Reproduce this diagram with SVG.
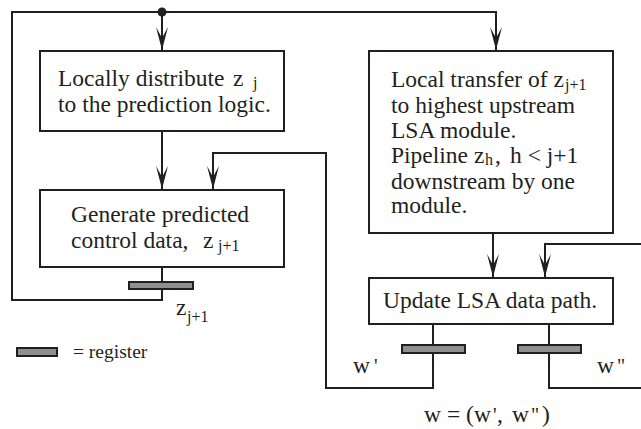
<svg xmlns="http://www.w3.org/2000/svg" width="641" height="429" viewBox="0 0 641 429">
  <style>
    .box { fill: #ffffff; stroke: #231f20; stroke-width: 2; }
    .wire { fill: none; stroke: #231f20; stroke-width: 2; }
    .reg { fill: #8e8f92; stroke: #231f20; stroke-width: 2; }
    text { font-family: 'Liberation Serif', 'Times New Roman', 'DejaVu Serif', serif; font-size: 23.5px; fill: #231f20; }
    .sub { font-size: 16px; }
    .prime { font-size: 20px; }
    .legend { font-size: 19.5px; }
  </style>
  <defs>
    <marker id="arrow" markerUnits="userSpaceOnUse" markerWidth="26" markerHeight="14" viewBox="-25 -7 26 14" refX="0" refY="0" orient="auto">
      <path d="M0,0 L-23,-6 L-12,0 L-23,6 Z" fill="#231f20"/>
    </marker>
  </defs>

  <!-- connectors -->
  <g id="connectors">
    <!-- feedback of z(j+1) around the left side and across the top -->
    <polyline class="wire" points="162,289 162,300 12,300 12,12 496,12 496,50" marker-end="url(#arrow)"/>
    <circle cx="162" cy="12" r="4.5" fill="#231f20"/>
    <line class="wire" x1="162" y1="12" x2="162" y2="50" marker-end="url(#arrow)"/>
    <!-- distribute -> generate -->
    <line class="wire" x1="162" y1="131" x2="162" y2="189" marker-end="url(#arrow)"/>
    <!-- generate -> z register -->
    <line class="wire" x1="162" y1="267" x2="162" y2="282"/>
    <!-- w' feedback into the prediction logic -->
    <polyline class="wire" points="433,353 433,388 326,388 326,153 213,153 213,189" marker-end="url(#arrow)"/>
    <!-- transfer -> update -->
    <line class="wire" x1="493" y1="233" x2="493" y2="277" marker-end="url(#arrow)"/>
    <!-- w'' loop on the right -->
    <polyline class="wire" points="641,244 545,244 545,277" marker-end="url(#arrow)"/>
    <polyline class="wire" points="549,353 549,388 641,388"/>
    <!-- update -> registers -->
    <line class="wire" x1="433" y1="324" x2="433" y2="345"/>
    <line class="wire" x1="549" y1="324" x2="549" y2="345"/>
  </g>

  <!-- registers -->
  <g id="reg-z">
    <rect class="reg" x="129" y="282" width="64" height="7"/>
    <text x="176" y="315">z</text>
    <text class="sub" x="187" y="322">j+1</text>
  </g>
  <g id="reg-w1">
    <rect class="reg" x="402" y="345" width="63" height="8"/>
    <text x="353" y="373">w</text>
    <text class="prime" x="374" y="373">'</text>
  </g>
  <g id="reg-w2">
    <rect class="reg" x="518" y="345" width="63" height="8"/>
    <text x="597" y="373">w</text>
    <text class="prime" x="617" y="373">"</text>
  </g>

  <!-- nodes -->
  <g id="distribute">
    <rect class="box" x="40" y="51" width="244" height="80"/>
    <text x="58" y="86">Locally distribute</text>
    <text x="233" y="86">z</text>
    <text class="sub" x="253" y="88">j</text>
    <text x="58" y="112">to the prediction logic.</text>
  </g>
  <g id="generate">
    <rect class="box" x="40" y="190" width="244" height="77"/>
    <text x="71" y="222">Generate predicted</text>
    <text x="71" y="248">control data,</text>
    <text x="203" y="248">z</text>
    <text class="sub" x="218" y="251">j+1</text>
  </g>
  <g id="transfer">
    <rect class="box" x="369" y="51" width="244" height="182"/>
    <text x="391" y="87">Local transfer of z</text>
    <text class="sub" x="565" y="90">j+1</text>
    <text x="391" y="113">to highest upstream</text>
    <text x="391" y="138">LSA module.</text>
    <text x="391" y="163">Pipeline z</text>
    <text class="sub" x="485" y="165">h</text>
    <text x="495" y="163">,</text>
    <text x="510" y="163">h &lt; j+1</text>
    <text x="391" y="189">downstream by one</text>
    <text x="391" y="213">module.</text>
  </g>
  <g id="update">
    <rect class="box" x="369" y="278" width="244" height="46"/>
    <text x="383" y="308">Update LSA data path.</text>
  </g>

  <!-- legend and output word -->
  <g id="legend">
    <rect class="reg" x="17" y="348" width="40" height="8"/>
    <text class="legend" x="73" y="358">= register</text>
  </g>
  <g id="output-word">
    <text x="424" y="422">w</text>
    <text x="447" y="422">=</text>
    <text x="466" y="422">(</text>
    <text x="474" y="422">w</text>
    <text class="prime" x="493" y="422">'</text>
    <text x="497" y="422">,</text>
    <text x="512" y="422">w</text>
    <text class="prime" x="531" y="422">"</text>
    <text x="542" y="422">)</text>
  </g>
</svg>
